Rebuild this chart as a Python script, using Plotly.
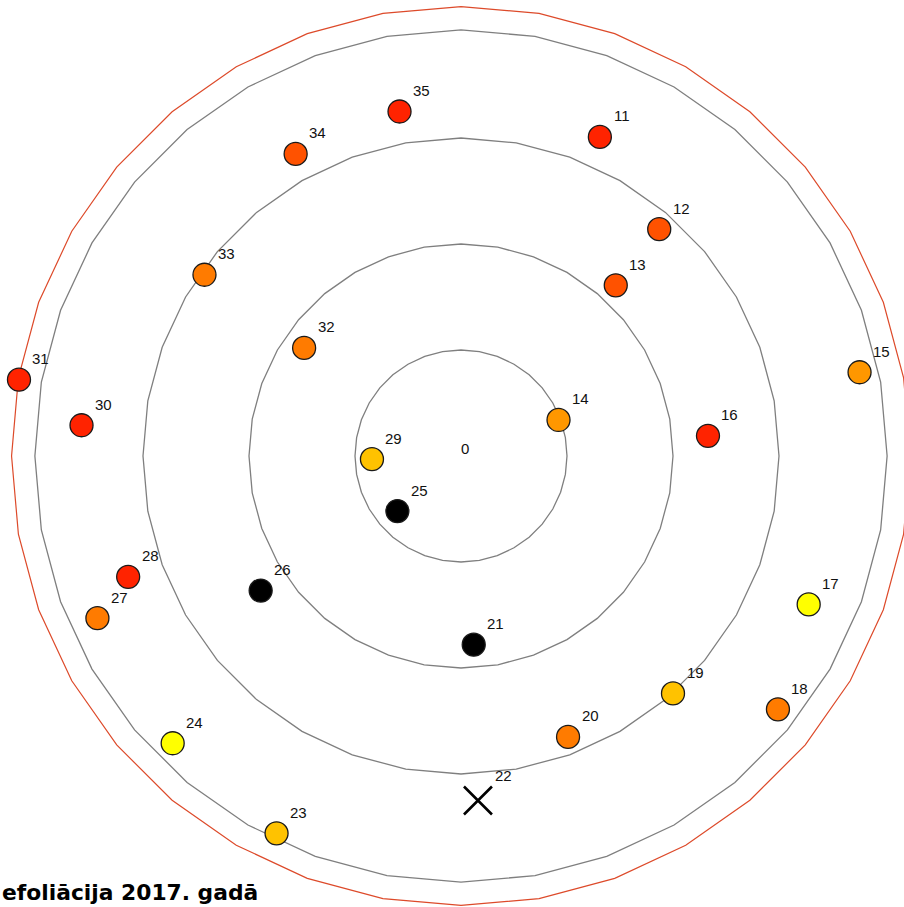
import numpy as np
import plotly.graph_objects as go

# ---------------- data (plot coordinates, ring spacing = 1 unit) ----------------
tree_ids = ["11", "12", "13", "14", "15", "16", "17", "18", "19", "20", "21", "22",
            "23", "24", "25", "26", "27", "28", "29", "30", "31", "32", "33", "34", "35"]
tree_x = [1.31, 1.87, 1.46, 0.92, 3.76, 2.33, 3.28, 2.99, 2.00, 1.01, 0.12, 0.16,
          -1.74, -2.72, -0.60, -1.89, -3.43, -3.14, -0.84, -3.58, -4.17, -1.48, -2.42, -1.56, -0.58]
tree_y = [3.01, 2.14, 1.61, 0.34, 0.79, 0.19, -1.40, -2.39, -2.24, -2.65, -1.78, -3.25,
          -3.56, -2.71, -0.52, -1.27, -1.53, -1.14, -0.03, 0.29, 0.72, 1.02, 1.71, 2.85, 3.25]
tree_class = ["red", "orange-red", "orange-red", "amber", "amber", "red", "yellow", "orange",
              "gold", "orange", "black", "cross", "gold", "yellow", "black", "black", "orange",
              "red", "gold", "red", "red", "orange", "orange", "orange-red", "red"]

ring_radii = [1.0, 2.0, 3.0, 4.02]
boundary_radius = 4.24
center_label = "0"
title_text = "efoliācija 2017. gadā"

class_colors = {
    "red": "#FF2300",
    "orange-red": "#FF5200",
    "orange": "#FF7B00",
    "amber": "#FF9700",
    "gold": "#FFC200",
    "yellow": "#FFFF00",
    "black": "#000000",
}

# ---------------- figure ----------------
W, H = 904, 907
CX, CY, UNIT = 461, 456, 106.0
fig = go.Figure()

ang = np.deg2rad(np.arange(0, 361, 10))
for r in ring_radii:
    fig.add_trace(go.Scatter(x=r * np.cos(ang), y=r * np.sin(ang), mode="lines",
                             line=dict(color="#7f7f7f", width=1.3),
                             hoverinfo="skip", showlegend=False))
fig.add_trace(go.Scatter(x=boundary_radius * np.cos(ang), y=boundary_radius * np.sin(ang),
                         mode="lines", line=dict(color="#DD4A2A", width=1.2),
                         hoverinfo="skip", showlegend=False))

for cls, col in class_colors.items():
    idx = [i for i, c in enumerate(tree_class) if c == cls]
    fig.add_trace(go.Scatter(
        x=[tree_x[i] for i in idx], y=[tree_y[i] for i in idx], mode="markers",
        marker=dict(size=23, color=col, line=dict(color="#1a1a1a", width=1.3)),
        text=[tree_ids[i] for i in idx], hoverinfo="text", showlegend=False))

idx = [i for i, c in enumerate(tree_class) if c == "cross"]
fig.add_trace(go.Scatter(
    x=[tree_x[i] for i in idx], y=[tree_y[i] for i in idx], mode="markers",
    marker=dict(symbol="x-thin", size=28, line=dict(color="#000000", width=2.6)),
    text=[tree_ids[i] for i in idx], hoverinfo="text", showlegend=False))

annotations = []
for tid, x, y, cls in zip(tree_ids, tree_x, tree_y, tree_class):
    sh = 25 if cls == "cross" else 21
    annotations.append(dict(x=x, y=y, xref="x", yref="y", text=tid, showarrow=False,
                            xshift=sh + 1, yshift=sh,
                            font=dict(family="Liberation Sans, Arial", size=15, color="#111111")))
annotations.append(dict(x=0, y=0, xref="x", yref="y", text=center_label, showarrow=False,
                        xshift=4, yshift=8,
                        font=dict(family="Liberation Sans, Arial", size=15, color="#111111")))
annotations.append(dict(x=0, y=1 - 892 / H, xref="paper", yref="paper",
                        xanchor="left", yanchor="middle", text="<b>" + title_text + "</b>",
                        showarrow=False,
                        font=dict(family="DejaVu Sans", size=21.8, color="#000000")))

fig.update_layout(
    width=W, height=H, margin=dict(l=0, r=0, t=0, b=0),
    paper_bgcolor="white", plot_bgcolor="white",
    xaxis=dict(range=[-CX / UNIT, (W - CX) / UNIT], visible=False, showgrid=False, zeroline=False),
    yaxis=dict(range=[-(H - CY) / UNIT, CY / UNIT], visible=False, showgrid=False, zeroline=False),
    annotations=annotations,
)

fig.write_html("out.html", config={"displayModeBar": False},
               post_script="document.body.style.margin='0px';document.body.style.overflow='hidden';")
